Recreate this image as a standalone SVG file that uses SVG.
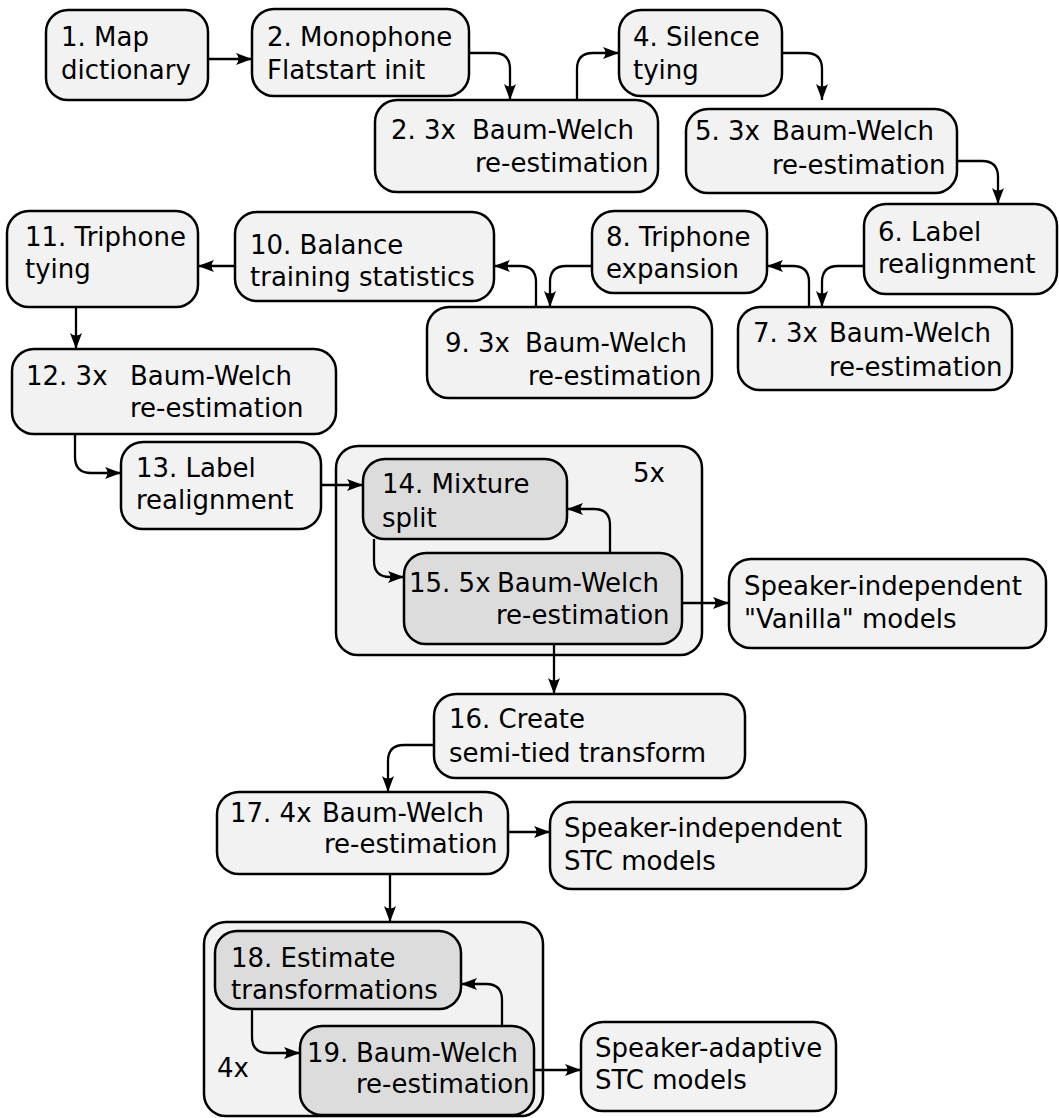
<svg xmlns="http://www.w3.org/2000/svg" width="1059" height="1118" viewBox="0 0 1059 1118">
<style>
.n{fill:#f2f2f2;stroke:#000;stroke-width:2.5}
.d{fill:#dcdcdc;stroke:#000;stroke-width:2.5}
text{font-family:"DejaVu Sans",sans-serif;font-size:26px;fill:#000}
.c path{fill:none;stroke:#000;stroke-width:2.3;marker-end:url(#ah)}
</style>
<defs>
<marker id="ah" markerUnits="userSpaceOnUse" markerWidth="18" markerHeight="14" refX="16" refY="6.5" orient="auto">
<path d="M0,0.5 L16,6.5 L0,12.5 Q5,6.5 0,0.5 Z" fill="#000"/>
</marker>
</defs>
<rect width="1059" height="1118" fill="#fff"/>
<g id="groupA"><rect class="n" x="336" y="446" width="366" height="209" rx="22"/><text x="633" y="482">5x</text></g>
<g id="groupB"><rect class="n" x="204" y="922" width="339" height="194" rx="22"/><text x="217" y="1077">4x</text></g>
<g id="n1"><rect class="n" x="46" y="10" width="162" height="90" rx="22"/><text x="61" y="46">1. Map</text><text x="61" y="79">dictionary</text></g>
<g id="n2"><rect class="n" x="252" y="9" width="217" height="87" rx="22"/><text x="267" y="46">2. Monophone</text><text x="267" y="79">Flatstart init</text></g>
<g id="n3"><rect class="n" x="375" y="100" width="283" height="92" rx="22"/><text x="391" y="139">2. 3x</text><text x="472" y="139">Baum-Welch</text><text x="475" y="172">re-estimation</text></g>
<g id="n4"><rect class="n" x="619" y="10" width="163" height="86" rx="22"/><text x="633" y="46">4. Silence</text><text x="633" y="79">tying</text></g>
<g id="n5"><rect class="n" x="686" y="109" width="271" height="84" rx="22"/><text x="695" y="140">5. 3x</text><text x="772" y="140">Baum-Welch</text><text x="772" y="174">re-estimation</text></g>
<g id="n6"><rect class="n" x="864" y="204" width="193" height="90" rx="22"/><text x="878" y="241">6. Label</text><text x="878" y="273">realignment</text></g>
<g id="n7"><rect class="n" x="738" y="307" width="274" height="83" rx="22"/><text x="753" y="342">7. 3x</text><text x="829" y="342">Baum-Welch</text><text x="829" y="376">re-estimation</text></g>
<g id="n8"><rect class="n" x="592" y="211" width="175" height="82" rx="22"/><text x="606" y="246">8. Triphone</text><text x="606" y="278">expansion</text></g>
<g id="n9"><rect class="n" x="427" y="307" width="285" height="91" rx="22"/><text x="445" y="352">9. 3x</text><text x="525" y="352">Baum-Welch</text><text x="528" y="385">re-estimation</text></g>
<g id="n10"><rect class="n" x="235" y="212" width="259" height="89" rx="22"/><text x="250" y="254">10. Balance</text><text x="250" y="286">training statistics</text></g>
<g id="n11"><rect class="n" x="7" y="211" width="191" height="96" rx="22"/><text x="25" y="246">11. Triphone</text><text x="25" y="278">tying</text></g>
<g id="n12"><rect class="n" x="12" y="349" width="324" height="85" rx="22"/><text x="26" y="385">12. 3x</text><text x="130" y="385">Baum-Welch</text><text x="130" y="417">re-estimation</text></g>
<g id="n13"><rect class="n" x="121" y="442" width="200" height="87" rx="22"/><text x="136" y="477">13. Label</text><text x="136" y="509">realignment</text></g>
<g id="n14"><rect class="d" x="363" y="459" width="204" height="80" rx="22"/><text x="382" y="493">14. Mixture</text><text x="382" y="527">split</text></g>
<g id="n15"><rect class="d" x="404" y="553" width="278" height="91" rx="22"/><text x="409" y="592">15. 5x</text><text x="497" y="592">Baum-Welch</text><text x="496" y="624">re-estimation</text></g>
<g id="vanilla"><rect class="n" x="729" y="559" width="317" height="89" rx="22"/><text x="744" y="595">Speaker-independent</text><text x="744" y="628">"Vanilla" models</text></g>
<g id="n16"><rect class="n" x="434" y="694" width="311" height="84" rx="22"/><text x="449" y="728">16. Create</text><text x="449" y="762">semi-tied transform</text></g>
<g id="n17"><rect class="n" x="217" y="792" width="291" height="82" rx="22"/><text x="230" y="822">17. 4x</text><text x="322" y="822">Baum-Welch</text><text x="324" y="853">re-estimation</text></g>
<g id="siSTC"><rect class="n" x="550" y="802" width="316" height="87" rx="22"/><text x="564" y="837">Speaker-independent</text><text x="564" y="870">STC models</text></g>
<g id="n18"><rect class="d" x="215" y="931" width="246" height="78" rx="22"/><text x="231" y="967">18. Estimate</text><text x="231" y="999">transformations</text></g>
<g id="n19"><rect class="d" x="300" y="1026" width="234" height="89" rx="22"/><text x="307" y="1062">19.</text><text x="356" y="1062">Baum-Welch</text><text x="356" y="1093">re-estimation</text></g>
<g id="saSTC"><rect class="n" x="581" y="1022" width="255" height="89" rx="22"/><text x="595" y="1057">Speaker-adaptive</text><text x="595" y="1089">STC models</text></g>
<g id="connectors" class="c">
<path d="M208,59 H252"/>
<path d="M469,53 H494 Q510,53 510,69 V100"/>
<path d="M577,100 V69 Q577,53 593,53 H619"/>
<path d="M782,53 H806 Q822,53 822,69 V100"/>
<path d="M957,161 H982 Q998,161 998,177 V204"/>
<path d="M864,266 H838 Q822,266 822,282 V307"/>
<path d="M809,307 V282 Q809,266 793,266 H767"/>
<path d="M592,266 H566 Q550,266 550,282 V307"/>
<path d="M536,307 V282 Q536,266 520,266 H494"/>
<path d="M235,266 H198"/>
<path d="M76,307 V349"/>
<path d="M75,434 V457 Q75,473 91,473 H121"/>
<path d="M321,485 H363"/>
<path d="M374,539 V561 Q374,577 390,577 H404"/>
<path d="M610,553 V525 Q610,509 594,509 H567"/>
<path d="M682,603 H729"/>
<path d="M554,644 V694"/>
<path d="M434,745 H404 Q388,745 388,761 V792"/>
<path d="M508,832 H550"/>
<path d="M390,874 V922"/>
<path d="M252,1009 V1037 Q252,1053 268,1053 H300"/>
<path d="M502,1026 V1000 Q502,984 486,984 H461"/>
<path d="M534,1070 H581"/>
</g>
</svg>
